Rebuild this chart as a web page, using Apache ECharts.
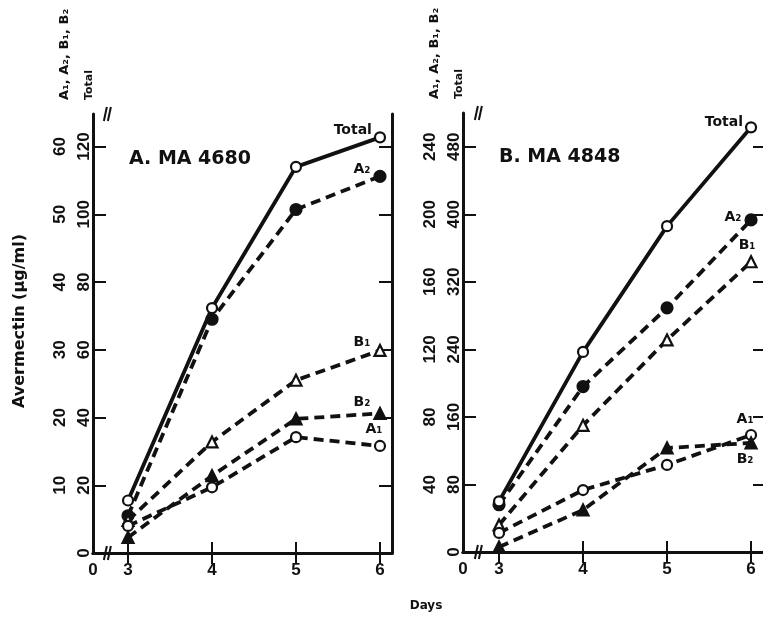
<!DOCTYPE html>
<html>
<head>
<meta charset="utf-8">
<title>Avermectin production</title>
<script src="https://cdn.jsdelivr.net/npm/echarts@6.0.0/dist/echarts.min.js"></script>
<style>
  html, body { margin: 0; padding: 0; background: #fff; }
  #chart { width: 763px; height: 617px; }
</style>
</head>
<body>
<div id="chart"></div>
<script>
// Days of fermentation
const days = [3, 4, 5, 6];

// A. MA 4680 (ug/ml); Total is read on the doubled scale
const totalA = [15.5, 72.3, 114, 122.7];
const a2A = [5.5, 34.5, 50.7, 55.6];
const b1A = [4.8, 16.4, 25.5, 29.9];
const b2A = [2.3, 11.4, 19.8, 20.6];
const a1A = [4.0, 9.7, 17.1, 15.8];

// B. MA 4848
const totalB = [60, 237, 386, 503];
const a2B = [28, 98, 144.6, 196.7];
const b1B = [16, 75, 125.6, 171.9];
const a1B = [11.3, 36.7, 51.6, 69.3];
const b2B = [3, 24.9, 61.6, 64.6];

// tick labels
const compTicksA = [10, 20, 30, 40, 50, 60];
const totalTicksA = [0, 20, 40, 60, 80, 100, 120];
const compTicksB = [40, 80, 120, 160, 200, 240];
const totalTicksB = [0, 80, 160, 240, 320, 400, 480];

const INK = '#111';
const NUM_FONT = '"Liberation Sans Narrow", "Liberation Sans", sans-serif';
const TXT_FONT = '"DejaVu Sans", sans-serif';

const chart = echarts.init(document.getElementById('chart'), null, { renderer: 'canvas' });

// marker styles per component
const marks = {
  total: { symbol: 'circle', size: 10, fill: '#fff', dashed: false },
  a2: { symbol: 'circle', size: 11, fill: INK, dashed: true },
  b1: { symbol: 'triangle', size: 11, fill: '#fff', dashed: true },
  b2: { symbol: 'triangle', size: 11, fill: INK, dashed: true },
  a1: { symbol: 'circle', size: 10, fill: '#fff', dashed: true }
};

function xAxes(gridIndex, min, max) {
  return [
    {
      gridIndex, type: 'value', min, max, position: 'bottom',
      axisLine: { lineStyle: { color: INK, width: 3 } },
      axisTick: { inside: true, length: 11, lineStyle: { color: INK, width: 2 }, customValues: days },
      axisLabel: {
        customValues: [min].concat(days), margin: 9,
        color: INK, fontFamily: NUM_FONT, fontWeight: 'bold', fontSize: 17,
        formatter: v => (v < 2.9 ? '0' : String(v))
      },
      splitLine: { show: false }
    },
    {
      gridIndex, type: 'value', min, max, position: 'top',
      axisLine: { lineStyle: { color: INK, width: 3 } },
      axisTick: { inside: true, length: 11, lineStyle: { color: INK, width: 2 }, customValues: days },
      axisLabel: { show: false },
      splitLine: { show: false }
    }
  ];
}

function yAxes(gridIndex, compMax, compTicks, totalTicks) {
  const label = {
    color: INK, fontFamily: NUM_FONT, fontWeight: 'bold', fontSize: 17, rotate: 90
  };
  const nameStyle = { color: INK, fontFamily: TXT_FONT, fontWeight: 'bold' };
  return [
    // inner column: Total scale, carries the axis line
    {
      gridIndex, type: 'value', min: 0, max: compMax * 2, position: 'left',
      name: 'Total', nameLocation: 'end', nameRotate: 90, nameGap: 14,
      nameTextStyle: Object.assign({ fontSize: 11, align: 'left', verticalAlign: 'bottom', padding: [0, 0, -2, 0] }, nameStyle),
      axisLine: { lineStyle: { color: INK, width: 3 } },
      axisTick: { inside: true, length: 13, lineStyle: { color: INK, width: 2 }, customValues: totalTicks },
      axisLabel: Object.assign({ customValues: totalTicks, margin: 0 }, label),
      splitLine: { show: false }
    },
    // outer column: A1, A2, B1, B2 scale
    {
      gridIndex, type: 'value', min: 0, max: compMax, position: 'left', offset: 22,
      name: 'A\u2081, A\u2082, B\u2081, B\u2082', nameLocation: 'end', nameRotate: 90, nameGap: 14,
      nameTextStyle: Object.assign({ fontSize: 13, align: 'left', verticalAlign: 'bottom' }, nameStyle),
      axisLine: { show: false },
      axisTick: { show: false },
      axisLabel: Object.assign({ customValues: compTicks, margin: 2 }, label),
      splitLine: { show: false }
    },
    // right frame with inward ticks
    {
      gridIndex, type: 'value', min: 0, max: compMax, position: 'right',
      axisLine: { show: true, lineStyle: { color: INK, width: 3 } },
      axisTick: { show: true, inside: true, length: 13, lineStyle: { color: INK, width: 2 }, customValues: compTicks },
      axisLabel: { show: false },
      splitLine: { show: false }
    }
  ];
}

function line(name, key, values, xi, yi, label) {
  const m = marks[key];
  const data = values.map((v, i) => [days[i], v]);
  const last = data.length - 1;
  data[last] = {
    value: data[last],
    label: Object.assign({
      show: true, formatter: name, color: INK,
      fontFamily: TXT_FONT, fontWeight: 'bold', fontSize: 14
    }, label)
  };
  return {
    type: 'line', name, xAxisIndex: xi, yAxisIndex: yi, data,
    symbol: m.symbol, symbolSize: m.size, showSymbol: true,
    itemStyle: { color: m.fill, borderColor: INK, borderWidth: 2.2 },
    lineStyle: { color: INK, width: 3.8, type: m.dashed ? [10, 6] : 'solid' },
    emphasis: { disabled: true },
    silent: true, z: m.dashed ? 3 : 4
  };
}

const minA = 2.583, maxA = 6.143;
const minB = 2.571, maxB = 6.178;
const compMaxA = 64.8, compMaxB = 260;

const option = {
  animation: false,
  backgroundColor: '#fff',
  grid: [
    { left: 93, top: 114, width: 299, height: 439, outerBoundsMode: 'none' },
    { left: 463, top: 113, width: 303, height: 439, outerBoundsMode: 'none' }
  ],
  xAxis: xAxes(0, minA, maxA).concat(xAxes(1, minB, maxB)),
  yAxis: yAxes(0, compMaxA, compTicksA, totalTicksA).concat(yAxes(1, compMaxB, compTicksB, totalTicksB)),
  title: [
    { text: 'A. MA 4680', left: 124, top: 145, textStyle: { fontFamily: TXT_FONT, fontWeight: 'bold', fontSize: 19, color: INK } },
    { text: 'B. MA 4848', left: 494, top: 143, textStyle: { fontFamily: TXT_FONT, fontWeight: 'bold', fontSize: 19, color: INK } }
  ],
  series: [
    line('Total', 'total', totalA, 0, 0, { position: 'left', distance: 2, offset: [0, -7] }),
    line('A\u2082', 'a2', a2A, 0, 1, { position: 'left', distance: 3, offset: [0, -7] }),
    line('B\u2081', 'b1', b1A, 0, 1, { position: 'left', distance: 3, offset: [0, -8] }),
    line('B\u2082', 'b2', b2A, 0, 1, { position: 'left', distance: 3, offset: [0, -11] }),
    line('A\u2081', 'a1', a1A, 0, 1, { position: 'top', distance: 4, offset: [-6, 0] }),

    line('Total', 'total', totalB, 2, 3, { position: 'left', distance: 2, offset: [0, -5] }),
    line('A\u2082', 'a2', a2B, 2, 4, { position: 'left', distance: 3, offset: [0, -3] }),
    line('B\u2081', 'b1', b1B, 2, 4, { position: 'top', distance: 3, offset: [-4, 0] }),
    line('A\u2081', 'a1', a1B, 2, 4, { position: 'top', distance: 3, offset: [-6, 0] }),
    line('B\u2082', 'b2', b2B, 2, 4, { position: 'bottom', distance: 3, offset: [-6, 0] })
  ]
};

chart.setOption(option);

// axis break marks and free texts, placed from the axes
function breakMark(xIndex, yIndex, xVal, yVal) {
  const p = chart.convertToPixel({ xAxisIndex: xIndex, yAxisIndex: yIndex }, [xVal, yVal]);
  const s = { stroke: INK, lineWidth: 2 };
  return [
    { type: 'line', shape: { x1: p[0] - 4, y1: p[1] + 7, x2: p[0] - 1, y2: p[1] - 7 }, style: s, z: 10 },
    { type: 'line', shape: { x1: p[0] + 0, y1: p[1] + 7, x2: p[0] + 3, y2: p[1] - 7 }, style: s, z: 10 }
  ];
}

const graphics = []
  .concat(breakMark(0, 1, 2.76, 0))
  .concat(breakMark(0, 1, 2.76, compMaxA))
  .concat(breakMark(2, 4, 2.76, 0))
  .concat(breakMark(2, 4, 2.76, compMaxB));

graphics.push({
  type: 'text', x: 20, y: 321, rotation: Math.PI / 2,
  style: {
    text: 'Avermectin (\u03bcg/ml)', fill: INK, font: 'bold 16px ' + TXT_FONT,
    textAlign: 'center', textVerticalAlign: 'middle'
  }
});
graphics.push({
  type: 'text', x: 426, y: 606,
  style: {
    text: 'Days', fill: INK, font: 'bold 12px ' + TXT_FONT,
    textAlign: 'center', textVerticalAlign: 'middle'
  }
});

chart.setOption({ graphic: graphics });
</script>
</body>
</html>
